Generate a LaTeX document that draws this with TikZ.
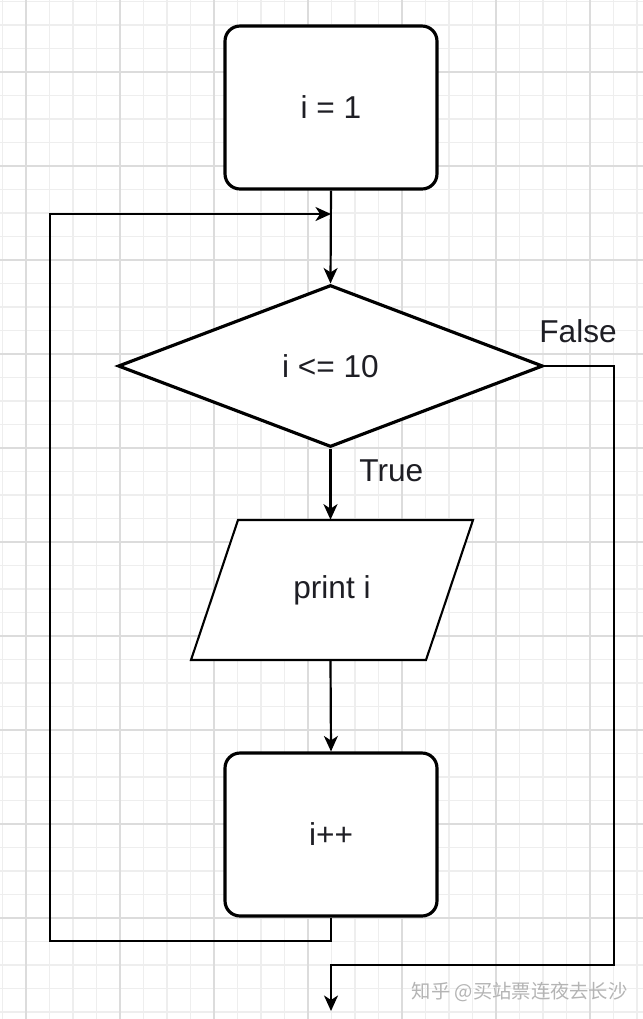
\documentclass[tikz,border=0pt]{standalone}
\usepackage{fontspec}
\setmainfont{Liberation Sans}
\newfontfamily\cjk{Noto Sans CJK SC}
\usetikzlibrary{shapes.geometric,arrows.meta}
\definecolor{gridminor}{HTML}{EEEEEE}
\definecolor{gridmajor}{HTML}{DCDCDC}
\definecolor{txt}{HTML}{1E1E24}
\definecolor{wm}{HTML}{B4B4B4}
\tikzset{
  procbox/.style={draw, line width=1.8pt, rounded corners=0.3cm, fill=white,
    minimum width=4.24cm, minimum height=3.26cm, inner sep=0pt, text=txt,
    font=\fontsize{18}{22}\selectfont},
  decbox/.style={draw, line width=1.8pt, diamond, fill=white,
    minimum width=8.5cm, minimum height=3.24cm, inner sep=0pt, text=txt,
    font=\fontsize{18}{22}\selectfont},
  iotext/.style={rectangle, minimum width=4.7cm, minimum height=2.8cm,
    inner sep=0pt, text=txt, font=\fontsize{18}{22}\selectfont},
  ioframe/.style={draw, line width=1.2pt, fill=white},
  conn/.style={line width=1.25pt, -{Stealth[length=0.31cm, width=0.28cm, inset=0.09cm]}},
  lbl/.style={text=txt, font=\fontsize{18}{22}\selectfont, inner sep=0pt},
  minorline/.style={gridminor, line width=0.6pt},
  majorline/.style={gridmajor, line width=0.8pt},
}
\begin{document}
\begin{tikzpicture}[x=0.02cm, y=-0.02cm]
\fill[white] (0,0) rectangle (643,1019);
\useasboundingbox (0,0) rectangle (643,1019);
\begin{scope}
\clip (0,0) rectangle (643,1019);
\foreach \i in {0,...,27} \draw[minorline] ({2.5+23.5*\i},0) -- ({2.5+23.5*\i},1019);
\foreach \i in {0,...,43} \draw[minorline] (0,{1.5+23.5*\i}) -- (643,{1.5+23.5*\i});
\foreach \i in {0,...,6} \draw[majorline] ({26+94*\i},0) -- ({26+94*\i},1019);
\foreach \i in {0,...,10} \draw[majorline] (0,{-22+94*\i}) -- (643,{-22+94*\i});
\end{scope}

\node[procbox] (init) at (331,107.5) {i = 1};
\node[decbox] (dec) at (330.5,366) {i <= 10};
\coordinate (pc) at (332,590);
\draw[ioframe] ([shift={(-94,-70)}]pc) -- ([shift={(141,-70)}]pc)
  -- ([shift={(94,70)}]pc) -- ([shift={(-141,70)}]pc) -- cycle;
\node[iotext] (print) at (pc) {\raisebox{-2pt}{print i}};
\node[procbox] (inc) at (331,834.5) {i++};

\coordinate (merge) at (331,214);
\coordinate (lb) at (50,941);
\coordinate (lt) at (50,214);
\coordinate (fb) at (614,965);
\coordinate (fe) at (331,965);
\coordinate (fend) at (331,1011);

\draw[conn] (init.south) -- (dec.north);
\draw[conn] (dec.south) -- (dec.south |- print.north);
\draw[conn] (dec.south |- print.south) -- (inc.north);
\draw[conn] (inc.south) |- (lb) -- (lt) -- (merge);
\draw[conn] (dec.east) -| (fb) -- (fe) -- (fend);

\node[lbl, anchor=west] (truelbl) at (359,471) {True};
\node[lbl, anchor=west] (falselbl) at (539,331) {False};

\node[text=wm, font=\cjk\fontsize{11}{13}\selectfont, inner sep=0pt, anchor=east] (wmark) at (628,992) {知乎 @买站票连夜去长沙};
\end{tikzpicture}
\end{document}
